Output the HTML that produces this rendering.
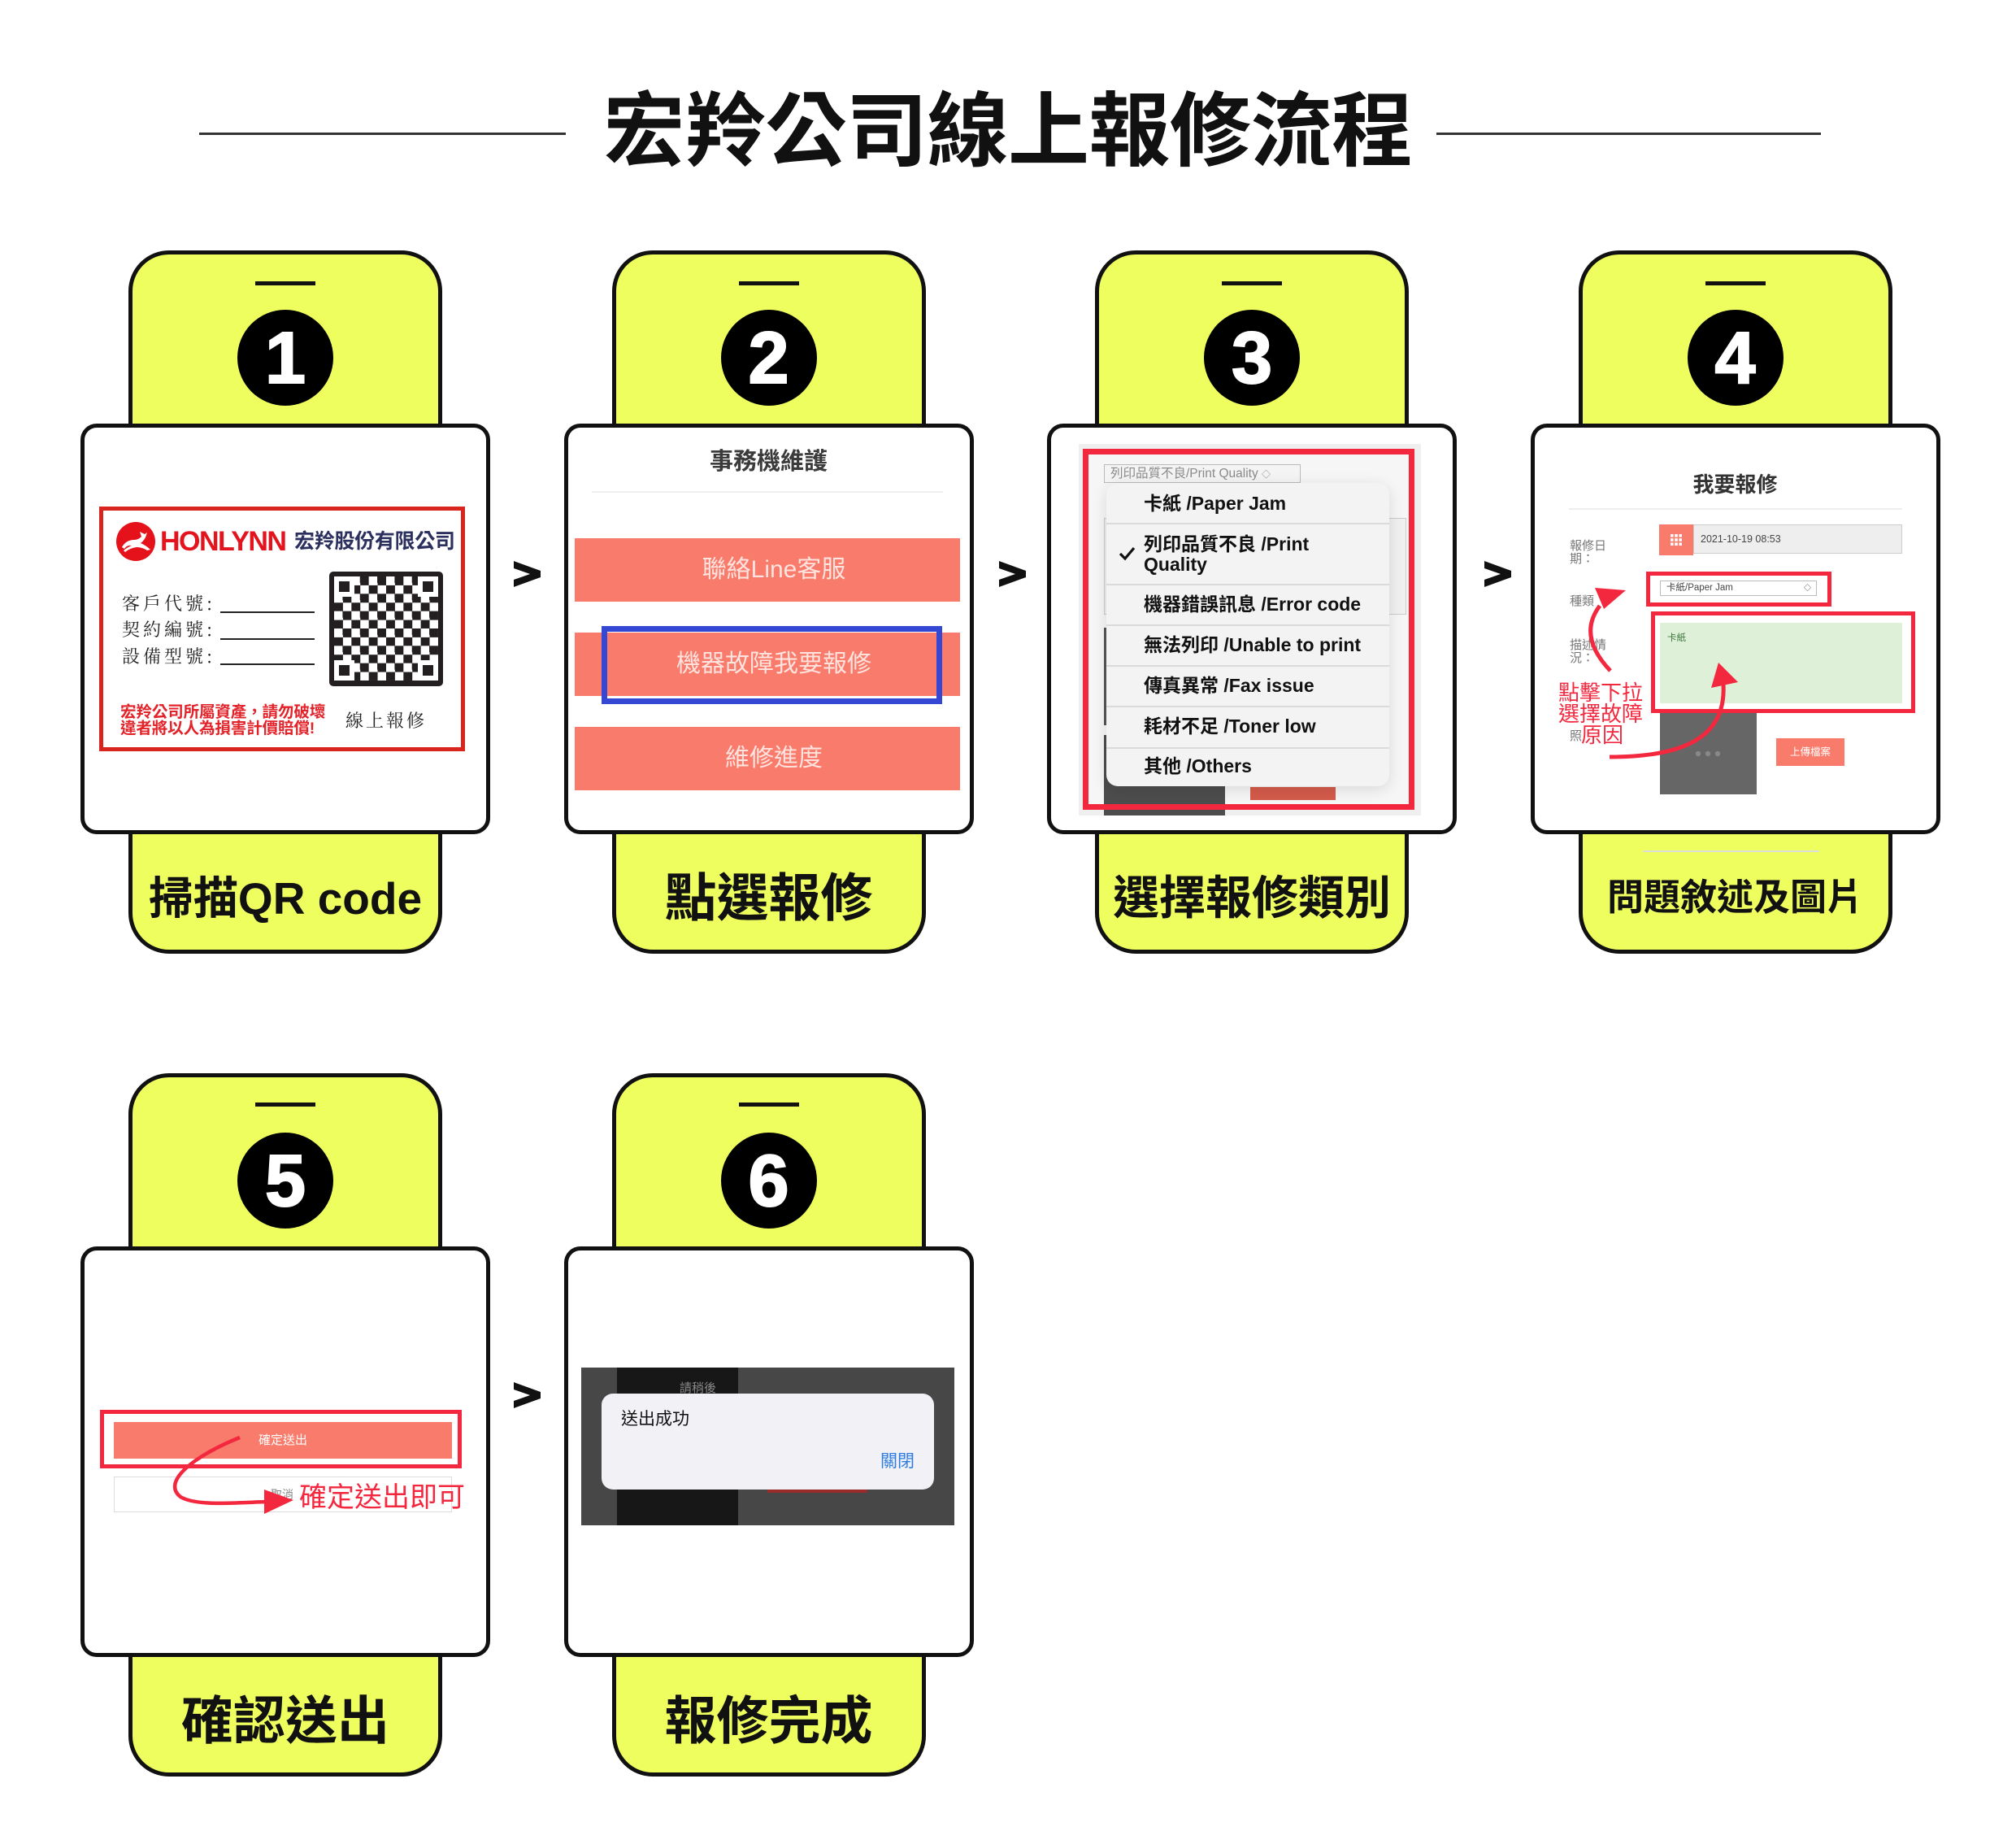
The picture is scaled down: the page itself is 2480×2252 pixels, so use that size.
<!DOCTYPE html>
<html><head><meta charset="utf-8">
<style>
*{margin:0;padding:0;box-sizing:border-box}
body{width:2480px;height:2252px;background:#fff;position:relative;overflow:hidden;font-family:"Liberation Sans","Noto Sans CJK TC",sans-serif}
.a{position:absolute}
.t{position:absolute;white-space:nowrap}
.yel{position:absolute;width:386px;height:865px;background:#eefe5f;border:5px solid #111;border-radius:50px}
.scr{position:absolute;width:504px;height:505px;background:#fff;border:5px solid #111;border-radius:20px}
.bar{position:absolute;width:74px;height:5px;background:#111}
.num{position:absolute;width:118px;height:118px;border-radius:50%;background:#000;color:#fff;font:bold 90px/120px "Liberation Sans",sans-serif;text-align:center;-webkit-text-stroke:2px #fff}
.lab{position:absolute;width:386px;height:147px;display:flex;align-items:center;justify-content:center;color:#111;font-family:"Liberation Sans","Noto Sans CJK TC",sans-serif;font-weight:700;white-space:nowrap}
.btn{position:absolute;left:707px;width:474px;height:78px;background:#f87b6b}
.btxt{position:absolute;left:715px;width:474px;height:78px;line-height:78px;text-align:center;color:rgba(255,236,232,0.92);font-size:30px}
.sep3{position:absolute;left:1361px;width:348px;height:1.5px;background:#dadada}
.it{position:absolute;left:1407px;font:bold 23px/25px "Liberation Sans","Noto Sans CJK TC",sans-serif;color:#111;white-space:nowrap}
.g4{position:absolute;left:1931px;font-size:15px;line-height:15.5px;color:#777;font-family:"Liberation Sans","Noto Sans CJK TC",sans-serif}
.fin{position:absolute;width:25px;height:25px;background:#fff;border:0}
.fin i{position:absolute;left:6px;top:6px;width:13px;height:13px;background:#231f20}
</style></head><body>

<!-- Title -->
<div class="a" style="left:245px;top:163px;width:451px;height:3px;background:#333"></div>
<div class="a" style="left:1767px;top:163px;width:473px;height:3px;background:#333"></div>
<div class="t" style="left:0;top:100px;width:2480px;text-align:center;font-size:100px;line-height:124px;font-weight:700;color:#111;letter-spacing:-0.5px">宏羚公司線上報修流程</div>

<!-- Phone shells row 1 -->
<div class="yel" style="left:158px;top:308px"></div>
<div class="yel" style="left:752.5px;top:308px"></div>
<div class="yel" style="left:1347px;top:308px"></div>
<div class="yel" style="left:1941.5px;top:308px"></div>
<!-- row 2 -->
<div class="yel" style="left:158px;top:1320px"></div>
<div class="yel" style="left:752.5px;top:1320px"></div>

<div class="bar" style="left:314px;top:346px"></div>
<div class="bar" style="left:908.5px;top:346px"></div>
<div class="bar" style="left:1503px;top:346px"></div>
<div class="bar" style="left:2097.5px;top:346px"></div>
<div class="bar" style="left:314px;top:1356px"></div>
<div class="bar" style="left:908.5px;top:1356px"></div>

<div class="num" style="left:292px;top:381px">1</div>
<div class="num" style="left:886.5px;top:381px">2</div>
<div class="num" style="left:1481px;top:381px">3</div>
<div class="num" style="left:2075.5px;top:381px">4</div>
<div class="num" style="left:292px;top:1393px">5</div>
<div class="num" style="left:886.5px;top:1393px">6</div>

<div class="scr" style="left:99px;top:521px"></div>
<div class="scr" style="left:693.5px;top:521px"></div>
<div class="scr" style="left:1288px;top:521px"></div>
<div class="scr" style="left:1882.5px;top:521px"></div>
<div class="scr" style="left:99px;top:1533px"></div>
<div class="scr" style="left:693.5px;top:1533px"></div>

<div class="lab" style="left:158px;top:1026px;font-size:55px;font-weight:600">掃描QR code</div>
<div class="lab" style="left:752.5px;top:1026px;font-size:64px">點選報修</div>
<div class="lab" style="left:1347px;top:1026px;font-size:57px">選擇報修類別</div>
<div class="lab" style="left:1941.5px;top:1026px;font-size:45px">問題敘述及圖片</div>
<div class="lab" style="left:158px;top:2038px;font-size:64px">確認送出</div>
<div class="lab" style="left:752.5px;top:2038px;font-size:64px">報修完成</div>
<div class="a" style="left:2021px;top:1046px;width:217px;height:1.5px;background:#ddd"></div>

<!-- Chevrons -->
<svg class="a" style="left:0;top:0" width="2480" height="2252">
  <polygon points="632,690 665,702 665,710 632,722 632,713 652,706 632,699" fill="#111"/>
  <polygon points="1229,690 1262,702 1262,710 1229,722 1229,713 1249,706 1229,699" fill="#111"/>
  <polygon points="1826,690 1859,702 1859,710 1826,722 1826,713 1846,706 1826,699" fill="#111"/>
  <polygon points="632,1700 665,1712 665,1720 632,1732 632,1723 652,1716 632,1709" fill="#111"/>
</svg>

<!-- ===== Phone 1 card ===== -->
<div class="a" style="left:122px;top:623px;width:450px;height:301px;border:5px solid #d8261e;background:#fff"></div>
<div class="a" style="left:143px;top:642px;width:48px;height:48px;border-radius:50%;background:#e5111b"></div>
<svg class="a" style="left:143px;top:642px" width="48" height="48" viewBox="0 0 48 48">
  <path d="M7 31 Q12 22 22 22 Q27 22 31 18 L29 12 L35 15 L38 13 L36 19 Q33 24 30 26 Q37 29 42 34 L38 35 Q32 31 25 31 Q17 32 11 37 L9 35 Q14 31 19 29 Q13 28 10 33 Z" fill="#fff"/>
</svg>
<div class="t" style="left:197px;top:649px;font:bold 34px/34px 'Liberation Sans',sans-serif;letter-spacing:-1.5px;color:#e3141d">HONLYNN</div>
<div class="t" style="left:362px;top:653px;font-size:25px;line-height:26px;font-weight:700;color:#2c305e;letter-spacing:-0.3px">宏羚股份有限公司</div>

<div class="t" style="left:150px;top:730px;font:22px/24px 'Noto Serif CJK SC','Noto Serif CJK TC',serif;letter-spacing:4px;color:#222">客戶代號:</div>
<div class="t" style="left:150px;top:762px;font:22px/24px 'Noto Serif CJK SC','Noto Serif CJK TC',serif;letter-spacing:4px;color:#222">契約編號:</div>
<div class="t" style="left:150px;top:795px;font:22px/24px 'Noto Serif CJK SC','Noto Serif CJK TC',serif;letter-spacing:4px;color:#222">設備型號:</div>
<div class="a" style="left:271px;top:752px;width:116px;height:1.6px;background:#222"></div>
<div class="a" style="left:271px;top:785px;width:116px;height:1.6px;background:#222"></div>
<div class="a" style="left:271px;top:816px;width:116px;height:1.6px;background:#222"></div>

<div class="a" style="left:405px;top:703px;width:140px;height:141px;background:#231f20;border-radius:5px"></div>
<div class="a" style="left:411px;top:709px;width:128px;height:128px;background:repeating-conic-gradient(#231f20 0 25%,#fff 0 50%) 0 0/21.34px 21.34px"></div>
<div class="fin" style="left:411px;top:709px"><i></i></div>
<div class="fin" style="left:514px;top:709px"><i></i></div>
<div class="fin" style="left:411px;top:812px"><i></i></div>
<div class="fin" style="left:514px;top:812px"><i></i></div>

<div class="t" style="left:148px;top:866px;font-size:19.6px;line-height:20px;font-weight:700;color:#e3232a;letter-spacing:-0.2px">宏羚公司所屬資產，請勿破壞<br>違者將以人為損害計價賠償!</div>
<div class="t" style="left:425px;top:874px;font:22px/24px 'Noto Serif CJK SC','Noto Serif CJK TC',serif;letter-spacing:3px;color:#222">線上報修</div>

<!-- ===== Phone 2 ===== -->
<div class="t" style="left:693.5px;top:551px;width:504px;text-align:center;font-size:29px;line-height:34px;font-weight:700;color:#3b3b3b">事務機維護</div>
<div class="a" style="left:728px;top:604px;width:432px;height:1.5px;background:#eee"></div>
<div class="btn" style="top:662px"></div>
<div class="btn" style="top:778px"></div>
<div class="btn" style="top:894px"></div>
<div class="btxt" style="top:662px">聯絡Line客服</div>
<div class="btxt" style="top:778px">機器故障我要報修</div>
<div class="btxt" style="top:894px">維修進度</div>
<div class="a" style="left:740px;top:770px;width:419px;height:96px;border:7px solid #3448d4"></div>

<!-- ===== Phone 3 ===== -->
<div class="a" style="left:1327px;top:546px;width:421px;height:457px;background:#efefef"></div>
<div class="a" style="left:1339px;top:559px;width:394px;height:430px;background:#f6f6f6"></div>
<div class="a" style="left:1358px;top:571px;width:242px;height:23px;border:1.5px solid #bbb;background:#f4f4f4"></div>
<div class="t" style="left:1366px;top:572px;font-size:15.5px;line-height:21px;color:#8a8a8a">列印品質不良/Print Quality <span style="font-size:11px">◇</span></div>
<div class="a" style="left:1358px;top:637px;width:372px;height:119px;border:1.5px solid #ccc;background:#f0f0f0"></div>
<div class="a" style="left:1358px;top:772px;width:4px;height:120px;background:#555"></div>
<div class="a" style="left:1358px;top:904px;width:149px;height:99px;background:#4d4d4d"></div>
<div class="a" style="left:1538px;top:968px;width:105px;height:16px;background:#d45b4b"></div>
<div class="a" style="left:1361px;top:594px;width:348px;height:373px;border-radius:14px;background:#f3f3f3;box-shadow:0 4px 18px rgba(0,0,0,.12)"></div>
<div class="sep3" style="top:643px"></div>
<div class="sep3" style="top:718px"></div>
<div class="sep3" style="top:768px"></div>
<div class="sep3" style="top:818px"></div>
<div class="sep3" style="top:868px"></div>
<div class="sep3" style="top:919px"></div>
<div class="it" style="top:607px">卡紙 /Paper Jam</div>
<div class="it" style="top:656.5px">列印品質不良 /Print<br>Quality</div>
<div class="it" style="top:731px">機器錯誤訊息 /Error code</div>
<div class="it" style="top:781px">無法列印 /Unable to print</div>
<div class="it" style="top:830.5px">傳真異常 /Fax issue</div>
<div class="it" style="top:880.5px">耗材不足 /Toner low</div>
<div class="it" style="top:930px">其他 /Others</div>
<svg class="a" style="left:1376px;top:672px" width="22" height="18"><polyline points="2,9 8,15 19,2" fill="none" stroke="#111" stroke-width="3.2"/></svg>
<div class="a" style="left:1332px;top:552px;width:408px;height:444px;border:7px solid #f3283f"></div>

<!-- ===== Phone 4 ===== -->
<div class="t" style="left:1882.5px;top:581px;width:504px;text-align:center;font-size:26px;line-height:30px;font-weight:700;color:#333">我要報修</div>
<div class="a" style="left:1930px;top:625px;width:410px;height:1.5px;background:#eee"></div>
<div class="g4" style="top:664px">報修日<br>期：</div>
<div class="g4" style="top:732px">種類</div>
<div class="g4" style="top:786px">描述情<br>況：</div>
<div class="g4" style="top:898px">照</div>
<div class="a" style="left:2041px;top:645px;width:42px;height:38px;background:#f87b6b"></div>
<svg class="a" style="left:2055px;top:657px" width="14" height="14">
  <rect x="0" y="0" width="3.6" height="3.6" fill="#fff"/><rect x="5.2" y="0" width="3.6" height="3.6" fill="#fff"/><rect x="10.4" y="0" width="3.6" height="3.6" fill="#fff"/>
  <rect x="0" y="5.2" width="3.6" height="3.6" fill="#fff"/><rect x="5.2" y="5.2" width="3.6" height="3.6" fill="#fff"/><rect x="10.4" y="5.2" width="3.6" height="3.6" fill="#fff"/>
  <rect x="0" y="10.4" width="3.6" height="3.6" fill="#fff"/><rect x="5.2" y="10.4" width="3.6" height="3.6" fill="#fff"/><rect x="10.4" y="10.4" width="3.6" height="3.6" fill="#fff"/>
</svg>
<div class="a" style="left:2083px;top:645px;width:257px;height:36px;background:#eee;border:1.5px solid #ccc"></div>
<div class="t" style="left:2092px;top:655px;font-size:12.5px;line-height:16px;color:#444">2021-10-19 08:53</div>
<div class="a" style="left:2042px;top:714px;width:193px;height:19px;border:1px solid #bbb;background:#fff"></div>
<div class="t" style="left:2050px;top:716px;font-size:11.5px;line-height:15px;color:#444">卡紙/Paper Jam</div>
<div class="t" style="left:2219px;top:717px;font-size:9px;line-height:13px;color:#444">◇</div>
<div class="a" style="left:2042px;top:766px;width:298px;height:99px;background:#dff0d8"></div>
<div class="t" style="left:2051px;top:778px;font-size:11.5px;line-height:14px;color:#3c763d">卡紙</div>
<div class="a" style="left:2042px;top:877px;width:119px;height:100px;background:#666"></div>
<svg class="a" style="left:2083px;top:921px" width="36" height="12"><circle cx="6" cy="6" r="3.2" fill="#888"/><circle cx="18" cy="6" r="3.2" fill="#888"/><circle cx="30" cy="6" r="3.2" fill="#888"/></svg>
<div class="a" style="left:2185px;top:908px;width:84px;height:34px;background:#f87b6b;color:#fff;font-size:12.5px;line-height:34px;text-align:center">上傳檔案</div>
<div class="a" style="left:2025px;top:703px;width:228px;height:43px;border:5.5px solid #f3283f"></div>
<div class="a" style="left:2031px;top:752px;width:325px;height:125px;border:5.5px solid #f3283f"></div>
<div class="t" style="left:1917px;top:839px;font-size:26px;line-height:26px;color:#f3283f">點擊下拉<br>選擇故障</div>
<div class="t" style="left:1945px;top:891px;font-size:26px;line-height:26px;color:#f3283f">原因</div>
<svg class="a" style="left:0;top:0" width="2480" height="2252">
  <path d="M1981 825 Q1940 782 1968 745" fill="none" stroke="#f3283f" stroke-width="5"/>
  <polygon points="1962,723 2000,726 1973,749" fill="#f3283f"/>
  <path d="M1980 931 C2062 931 2124 912 2120 842" fill="none" stroke="#f3283f" stroke-width="5"/>
  <polygon points="2105,846 2114,815 2138,839" fill="#f3283f"/>
</svg>

<!-- ===== Phone 5 ===== -->
<div class="a" style="left:140px;top:1749px;width:416px;height:45px;background:#f87b6b;color:#fff;font-size:15px;line-height:45px;text-align:center">確定送出</div>
<div class="a" style="left:140px;top:1816px;width:416px;height:44px;border:1px solid #ddd;background:#fff"></div>
<div class="t" style="left:333px;top:1830px;font-size:14px;line-height:16px;color:#888">取消</div>
<div class="a" style="left:123px;top:1734px;width:445px;height:72px;border:5.5px solid #f3283f"></div>
<div class="t" style="left:368px;top:1824px;font-size:34px;line-height:36px;color:#f3283f;background:rgba(255,255,255,0.0)">確定送出即可</div>
<svg class="a" style="left:0;top:0" width="2480" height="2252">
  <path d="M295 1768 C240 1790 198 1822 222 1841 C242 1853 290 1848 330 1847" fill="none" stroke="#f3283f" stroke-width="4.5"/>
  <polygon points="325,1832 361,1845 325,1862" fill="#f3283f"/>
</svg>

<!-- ===== Phone 6 ===== -->
<div class="a" style="left:715px;top:1682px;width:459px;height:194px;background:#474747"></div>
<div class="a" style="left:759px;top:1682px;width:149px;height:194px;background:#171717"></div>
<div class="t" style="left:836px;top:1699px;font-size:15px;line-height:18px;color:#888">請稍後</div>
<div class="a" style="left:944px;top:1830px;width:123px;height:6px;background:#9a2b2b"></div>
<div class="a" style="left:740px;top:1714px;width:409px;height:118px;border-radius:14px;background:#f1f1f6"></div>
<div class="t" style="left:764px;top:1733px;font-size:21px;line-height:26px;color:#111">送出成功</div>
<div class="t" style="left:1083px;top:1785px;font-size:21px;line-height:26px;color:#2f7de1">關閉</div>

</body></html>
